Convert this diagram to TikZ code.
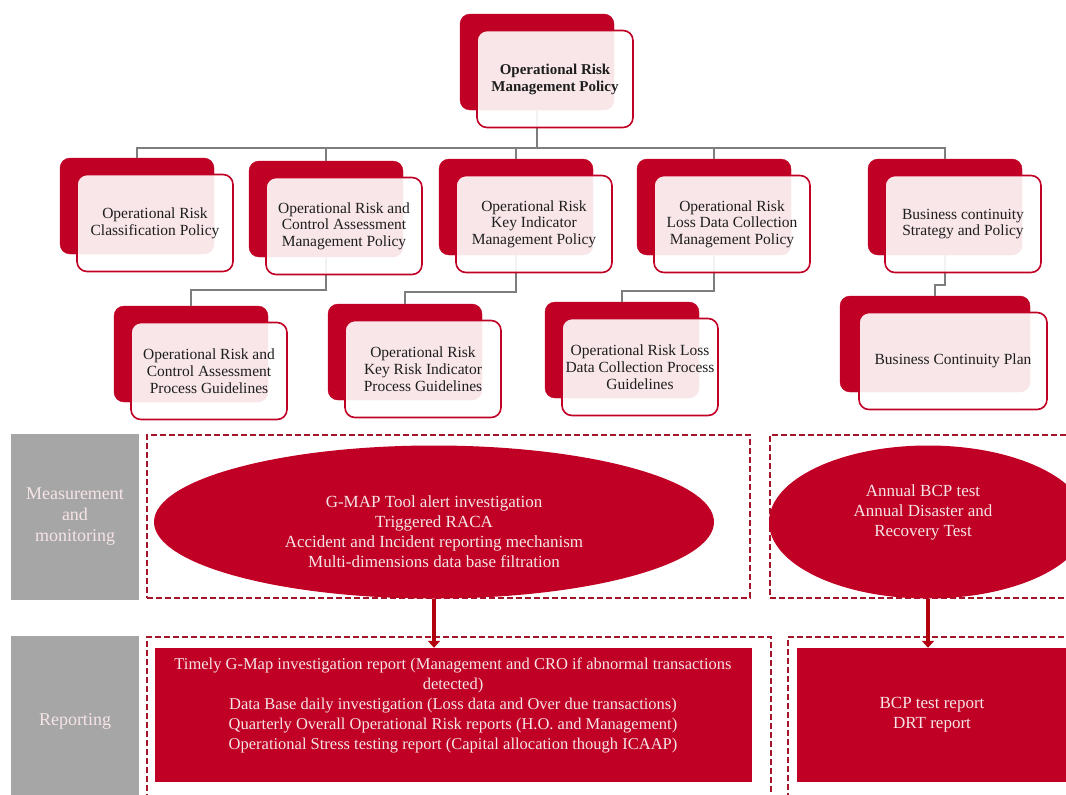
\documentclass[tikz,border=0pt]{standalone}
\usepackage{fontspec}
\setmainfont{Liberation Serif}
\usetikzlibrary{arrows.meta,shapes.geometric}

\definecolor{orred}{RGB}{192,0,36}
\definecolor{dashred}{RGB}{165,20,40}
\definecolor{arrred}{RGB}{178,0,14}
\definecolor{sidegray}{RGB}{166,166,166}
\definecolor{linkgray}{RGB}{125,125,125}
\definecolor{cardtext}{RGB}{30,30,30}
\definecolor{lighttext}{RGB}{246,228,230}

\tikzset{
	cardback/.style={rectangle, rounded corners=10pt, fill=orred, draw=orred, minimum width=154pt, minimum height=96pt, inner sep=0pt},
	cardfront/.style={rectangle, rounded corners=10pt, fill=white, fill opacity=0.9, text opacity=1, draw=orred, line width=1.6pt, minimum width=156pt, minimum height=97pt, inner sep=1pt, align=center, text=cardtext, font=\fontsize{15.5}{16.7}\selectfont},
	link/.style={draw=linkgray, line width=2pt},
	sidebox/.style={rectangle, fill=sidegray, minimum width=128pt, inner sep=0pt, align=center, text=lighttext, font=\fontsize{18}{21}\selectfont},
	dashbox/.style={rectangle, draw=dashred, line width=2pt, dash pattern=on 6pt off 3pt, inner sep=0pt},
	oval/.style={ellipse, fill=orred, inner sep=0pt},
	redbox/.style={rectangle, fill=orred, inner sep=0pt},
	redtext/.style={align=center, text=lighttext, font=\fontsize{17}{20}\selectfont},
	flow/.style={draw=arrred, line width=4pt, -{Triangle[width=12pt,length=7pt]}}
}

\begin{document}
\begin{tikzpicture}[x=1pt, y=-1pt]
		\useasboundingbox (0,0) rectangle (1066,795);
		\clip (0,0) rectangle (1066,795);

		% policy tree
		\node[cardback] (topb) at (537,62) {};
		\node[cardback] (clsb) at (137,206) {};
		\node[cardback] (rcsab) at (326,209) {};
		\node[cardback] (krib) at (516,207) {};
		\node[cardback] (ldcb) at (714,207) {};
		\node[cardback] (bcsb) at (945,207) {};
		\node[cardback] (rcsagb) at (191,354) {};
		\node[cardback] (krigb) at (405,352) {};
		\node[cardback] (ldcgb) at (622,350) {};
		\node[cardback, minimum width=190pt] (bcpb) at (935,344) {};

		\draw[link, line width=2.5pt] (topb.south) -- ++(0,38) -| (clsb.north);
		\draw[link, line width=2.5pt] (topb.south) -- ++(0,38) -| (rcsab.north);
		\draw[link] (topb.south) -- ++(0,38) -| (krib.north);
		\draw[link] (topb.south) -- ++(0,38) -| (ldcb.north);
		\draw[link] (topb.south) -- ++(0,38) -| (bcsb.north);
		\draw[link] (rcsab.south) -- ++(0,33) -| (rcsagb.north);
		\draw[link] (krib.south) -- ++(0,37) -| (krigb.north);
		\draw[link] (ldcb.south) -- ++(0,36) -| (ldcgb.north);
		\draw[link] (bcsb.south) -- ++(0,30) -| (bcpb.north);

		\node[cardfront, font=\fontsize{15}{17}\selectfont\bfseries] (top) at ([shift={(18,17)}]topb.center) {Operational Risk\\Management Policy};
		\node[cardfront] (cls) at ([shift={(18,17)}]clsb.center) {Operational Risk\\Classification Policy};
		\node[cardfront] (rcsa) at ([shift={(18,17)}]rcsab.center) {Operational Risk and\\Control Assessment\\Management Policy};
		\node[cardfront] (kri) at ([shift={(18,17)}]krib.center) {Operational Risk\\Key Indicator\\Management Policy};
		\node[cardfront] (ldc) at ([shift={(18,17)}]ldcb.center) {Operational Risk\\Loss Data Collection\\Management Policy};
		\node[cardfront] (bcs) at ([shift={(18,17)}]bcsb.center) {Business continuity\\Strategy and Policy};
		\node[cardfront] (rcsag) at ([shift={(18,17)}]rcsagb.center) {Operational Risk and\\Control Assessment\\Process Guidelines};
		\node[cardfront] (krig) at ([shift={(18,17)}]krigb.center) {Operational Risk\\Key Risk Indicator\\Process Guidelines};
		\node[cardfront] (ldcg) at ([shift={(18,17)}]ldcgb.center) {Operational Risk Loss\\Data Collection Process\\Guidelines};
		\node[cardfront, minimum width=188pt] (bcp) at ([shift={(18,17)}]bcpb.center) {Business Continuity Plan};

		% measurement and reporting
		\node[sidebox, minimum height=166pt] (meas) at (75,517) {Measurement\\and\\monitoring};
		\node[sidebox, minimum height=170pt] (rep) at (75,721) {Reporting};

		\node[dashbox, minimum width=603pt, minimum height=163pt] (measl) at (448.5,516.5) {};
		\node[dashbox, minimum width=305pt, minimum height=163pt] (measr) at (922.5,516.5) {};
		\node[dashbox, minimum width=624pt, minimum height=170pt] (repl) at (459,722) {};
		\node[dashbox, minimum width=287pt, minimum height=170pt] (repr) at (931.5,722) {};

		\node[oval, minimum width=560pt, minimum height=153pt] (ovl) at (434,522) {};
		\node[oval, minimum width=318pt, minimum height=153pt] (ovr) at (928,522) {};
		\node[redbox, minimum width=597pt, minimum height=134pt] (rbl) at (453.5,715) {};
		\node[redbox, minimum width=280pt, minimum height=134pt] (rbr) at (937,715) {};

		\node[redtext] (ovltxt) at (434,532) {G-MAP Tool alert investigation\\Triggered RACA\\Accident and Incident reporting mechanism\\Multi-dimensions data base filtration};
		\node[redtext] (ovrtxt) at (923,512) {Annual BCP test\\Annual Disaster and\\Recovery Test};
		\node[redtext, font=\fontsize{16.5}{20}\selectfont] (rbltxt) at (453,705) {Timely G-Map investigation report (Management and CRO if abnormal transactions\\detected)\\Data Base daily investigation (Loss data and Over due transactions)\\Quarterly Overall Operational Risk reports (H.O. and Management)\\Operational Stress testing report (Capital allocation though ICAAP)};
		\node[redtext] (rbrtxt) at (932,715) {BCP test report\\DRT report};

		\draw[flow] (ovl.south) -- (ovl.south |- rbl.north);
		\draw[flow] (ovr.south) -- (ovr.south |- rbr.north);

\end{tikzpicture}
\end{document}
